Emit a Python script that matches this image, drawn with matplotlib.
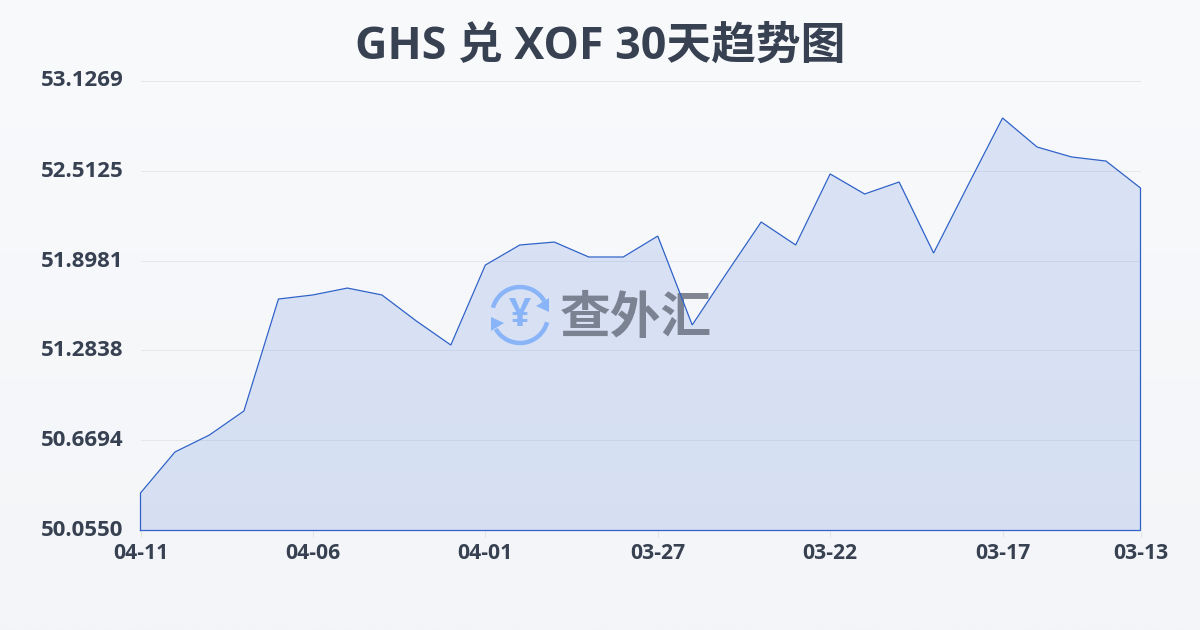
import numpy as np
import matplotlib
matplotlib.use("Agg")
import matplotlib.pyplot as plt
from matplotlib.patches import Arc, Polygon
from matplotlib.colors import LinearSegmentedColormap
from matplotlib.transforms import ScaledTranslation

plt.rcParams['font.family'] = ['Open Sans', 'Noto Sans CJK SC', 'DejaVu Sans']

title = "GHS 兑 XOF 30天趋势图"
watermark = "查外汇"
values = [50.311, 50.591, 50.707, 50.871, 51.635, 51.663, 51.710, 51.663, 51.485, 51.321,
          51.867, 52.004, 52.024, 51.922, 51.922, 52.065, 51.458, 51.813, 52.161, 52.004,
          52.489, 52.352, 52.434, 51.949, 52.413, 52.871, 52.673, 52.605, 52.577, 52.393]
y_ticks = [50.0550, 50.6694, 51.2838, 51.8981, 52.5125, 53.1269]
x_tick_pos = [0, 5, 10, 15, 20, 25, 29]
x_tick_labels = ["04-11", "04-06", "04-01", "03-27", "03-22", "03-17", "03-13"]

W, H = 1200, 630
fig = plt.figure(figsize=(12, 6.3), dpi=100)

# page background gradient
bg = fig.add_axes([0, 0, 1, 1], zorder=0)
bg.axis('off')
cmap = LinearSegmentedColormap.from_list('bg', ['#f9fafc', '#f3f5f8'])
bg.imshow(np.linspace(0, 1, 256).reshape(-1, 1), aspect='auto', cmap=cmap, extent=[0, W, H, 0])
bg.set_xlim(0, W); bg.set_ylim(H, 0)

# chart
ax = fig.add_axes([140.5 / W, 1 - 530.5 / H, 1000 / W, 450 / H], zorder=1)
ax.patch.set_alpha(0)
x = np.arange(len(values))
ax.set_xlim(0, 29)
ax.set_ylim(y_ticks[0], y_ticks[-1])
ax.fill_between(x, values, y_ticks[0], color='#3f72d8', alpha=0.16, lw=0, zorder=2)
ax.plot(np.r_[x[0], x, x[-1], x[0]],
        np.r_[y_ticks[0], values, y_ticks[0], y_ticks[0]],
        color='#2f62c8', lw=0.9, zorder=5, solid_joinstyle='miter', clip_on=False)
for s in ax.spines.values():
    s.set_visible(False)
ax.set_yticks(y_ticks)
ax.set_yticklabels([f"{v:.4f}" for v in y_ticks])
ax.set_xticks(x_tick_pos)
ax.set_xticklabels(x_tick_labels)
ax.grid(axis='y', color='#e4e7ec', lw=0.7, zorder=1)
ax.set_axisbelow(True)
ax.tick_params(axis='y', length=0, pad=12.5, labelsize=16, labelcolor='#374151')
ax.tick_params(axis='x', length=4, width=0.8, color='#e2e4e0', pad=5, labelsize=15.2, labelcolor='#374151')
up = ScaledTranslation(0, 2 / 72 * 0.72 * 1, fig.dpi_scale_trans)
for lab in ax.get_xticklabels() + ax.get_yticklabels():
    lab.set_fontweight('bold')
for lab in ax.get_yticklabels():
    lab.set_transform(lab.get_transform() + up)

# title and watermark in pixel coordinates (bg axes' data space)
tr = bg.transData
ax.text(600, 47, title, transform=tr, ha='center', va='center', fontsize=32.2, fontweight='bold',
        color='#374151', clip_on=False)
ax.text(636, 320, watermark, transform=tr, ha='center', va='center', fontsize=36.5, fontweight='bold',
        color='#6b7280', alpha=0.85, clip_on=False, zorder=3)
blue = '#8ab4f8'
for t1, t2 in [(195, 330), (15, 150)]:
    ax.add_patch(Arc((520, 315), 56, 56, theta1=t1, theta2=t2, color=blue, lw=3.2,
                     transform=tr, clip_on=False, zorder=3))
ax.add_patch(Polygon([[549, 298], [549, 312], [536, 306]], closed=True, color=blue, lw=0,
                     transform=tr, clip_on=False, zorder=3))
ax.add_patch(Polygon([[491, 317], [491, 331], [504, 323]], closed=True, color=blue, lw=0,
                     transform=tr, clip_on=False, zorder=3))
ax.text(520, 315, "¥", transform=tr, ha='center', va='center', fontsize=28, fontweight='bold',
        color=blue, clip_on=False, zorder=3)

fig.savefig('out.png', dpi=100)
